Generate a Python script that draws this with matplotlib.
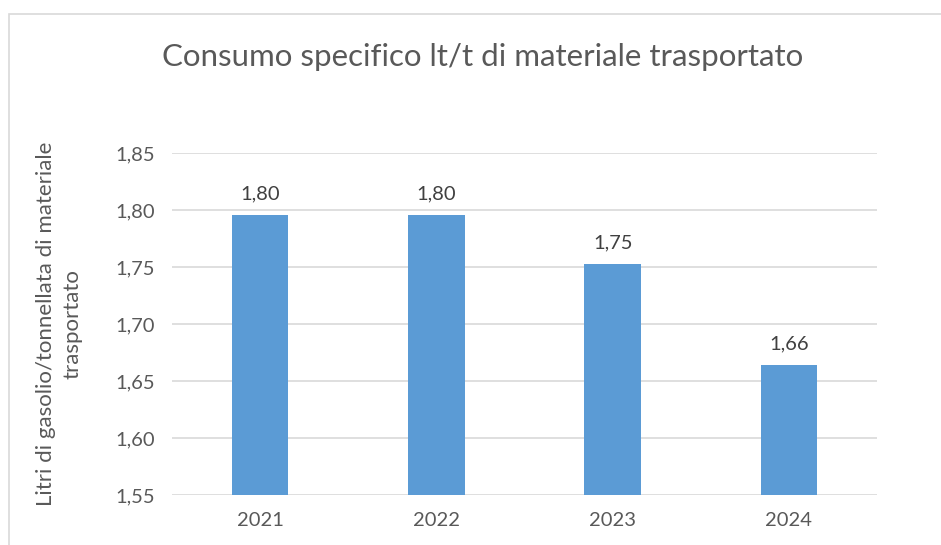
import matplotlib.pyplot as plt
from matplotlib.patches import Rectangle
from matplotlib.ticker import FuncFormatter

anni = ['2021', '2022', '2023', '2024']
consumo = [1.796, 1.796, 1.753, 1.664]
etichette = ['1,80', '1,80', '1,75', '1,66']
y_ticks = [1.55, 1.60, 1.65, 1.70, 1.75, 1.80, 1.85]

plt.rcParams['font.family'] = ['Lato', 'DejaVu Sans']
grigio = '#595959'

fig = plt.figure(figsize=(9.41, 5.45), dpi=100)
ax = fig.add_axes([172 / 941, 1 - 495 / 545, 705 / 941, 342 / 545])

# cornice del grafico
fig.patches.append(Rectangle((9 / 941, -0.1), 1.1, 1 - 14 / 545 + 0.1,
                             transform=fig.transFigure, fill=False,
                             edgecolor='#D9D9D9', linewidth=1.2))

x = range(len(anni))
ax.bar(x, consumo, width=0.32, color='#5B9BD5', zorder=3)
for xi, v, lab in zip(x, consumo, etichette):
    ax.annotate(lab, (xi, v), xytext=(0, 9), textcoords='offset points',
                ha='center', va='bottom', fontsize=14.5, color='#404040')

ax.set_xlim(-0.5, 3.5)
ax.set_ylim(1.55, 1.85)
ax.set_yticks(y_ticks)
ax.yaxis.set_major_formatter(FuncFormatter(lambda v, p: f'{v:.2f}'.replace('.', ',')))
ax.set_xticks(list(x))
ax.set_xticklabels(anni)
ax.grid(axis='y', color='#D9D9D9', linewidth=1.2, zorder=0)
for s in ax.spines.values():
    s.set_visible(False)
ax.tick_params(length=0, labelsize=14.5, labelcolor=grigio, pad=12)
ax.tick_params(axis='y', pad=12)

ax.set_ylabel('Litri di gasolio/tonnellata di materiale\ntrasportato',
              fontsize=16, color=grigio, labelpad=24, linespacing=1.4)
fig.text(483 / 941, 1 - 57 / 545, 'Consumo specifico lt/t di materiale trasportato',
         ha='center', va='center', fontsize=22.5, color=grigio)

fig.savefig('out.png', dpi=100)
